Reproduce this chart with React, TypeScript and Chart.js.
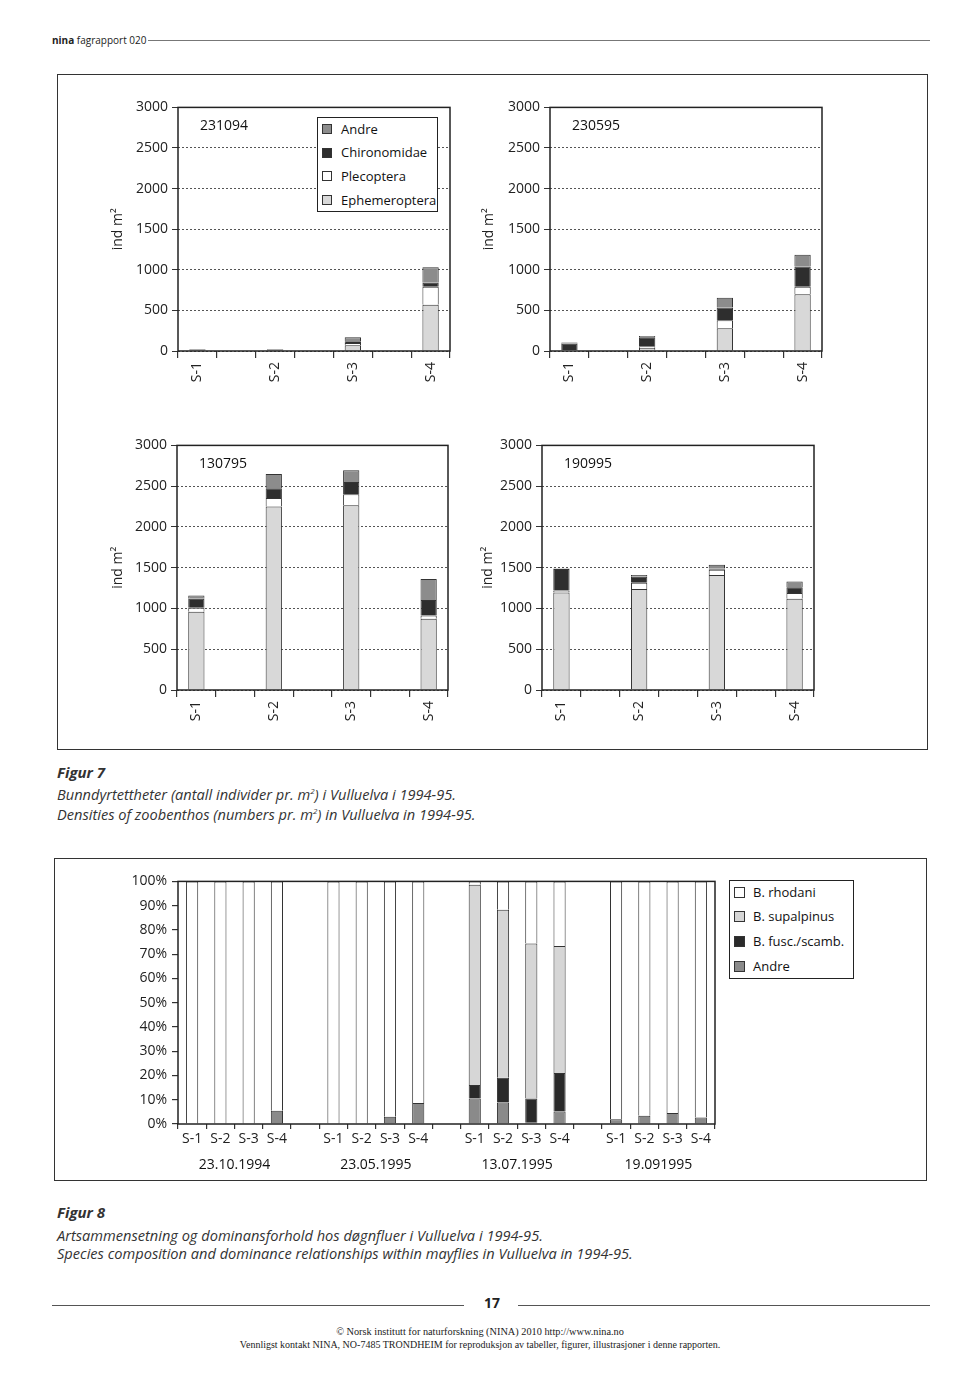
import React, { useEffect, useRef } from "react";
import { Chart, registerables } from "chart.js";
Chart.register(...registerables);

const FONT = "'Open Sans', 'DejaVu Sans', sans-serif";

// ---------- Figur 7 data ----------
const stations = ["S-1", "S-2", "S-3", "S-4"];
const densityTicks = [0, 500, 1000, 1500, 2000, 2500, 3000];
const densitySeries = ["Ephemeroptera", "Plecoptera", "Chironomidae", "Andre"];
const densityColors = ["#d8d8d8", "#ffffff", "#2e2e2e", "#8c8c8c"];

// 231094
const eph231094 = [5, 5, 70, 570];
const plec231094 = [0, 0, 30, 220];
const chir231094 = [15, 15, 20, 50];
const andre231094 = [5, 5, 50, 190];
// 230595
const eph230595 = [10, 40, 280, 700];
const plec230595 = [0, 20, 100, 90];
const chir230595 = [80, 110, 155, 250];
const andre230595 = [15, 15, 120, 145];
// 130795
const eph130795 = [960, 2250, 2265, 875];
const plec130795 = [50, 105, 135, 40];
const chir130795 = [110, 120, 150, 190];
const andre130795 = [40, 175, 145, 255];
// 190995
const eph190995 = [1195, 1240, 1410, 1120];
const plec190995 = [25, 75, 65, 70];
const chir190995 = [265, 75, 15, 70];
const andre190995 = [5, 20, 45, 70];

// ---------- Figur 8 data ----------
const compGroups = ["23.10.1994", "23.05.1995", "13.07.1995", "19.091995"];
const compSeries = ["Andre", "B. fusc./scamb.", "B. supalpinus", "B. rhodani"];
const compColors = ["#8a8a8a", "#2a2a2a", "#d6d6d6", "#ffffff"];
const andreComp = [0, 0, 0, 5.5, 0, 0, 3, 8.7, 10.5, 8.9, 0.5, 5.2, 2.0, 3.4, 4.5, 2.7];
const fuscComp = [0, 0, 0, 0, 0, 0, 0, 0, 5.6, 10.2, 10, 15.8, 0, 0, 0, 0];
const supalpinusComp = [0, 0, 0, 0, 0, 0, 0, 0, 82.5, 69.2, 63.9, 52.4, 0, 0, 0, 0];
const rhodaniComp = [100, 100, 100, 94.5, 100, 100, 97, 91.3, 1.4, 11.7, 25.6, 26.6, 98, 96.6, 95.5, 97.3];
const compTicks = [0, 10, 20, 30, 40, 50, 60, 70, 80, 90, 100];

const framePlugin = {
  id: "frame",
  afterDraw(chart: any) {
    const { ctx, chartArea: a } = chart;
    ctx.save();
    ctx.strokeStyle = "#222";
    ctx.lineWidth = 1.5;
    ctx.strokeRect(a.left, a.top, a.right - a.left, a.bottom - a.top);
    ctx.restore();
  },
};

type Box = { l: number; t: number; r: number; b: number };

function DensityPanel(props: {
  left: number; top: number; width: number; height: number; plot: Box;
  sample: string; titleCenter: number; values: (number)[][];
}) {
  const ref = useRef<HTMLCanvasElement>(null);
  const { left, top, width, height, plot, sample, titleCenter, values } = props;
  useEffect(() => {
    const slots: string[] = [];
    stations.forEach((s, i) => { slots.push(s); if (i < stations.length - 1) slots.push(""); });
    const toSlots = (arr: number[]) => {
      const out: (number | null)[] = [];
      arr.forEach((v, i) => { out.push(v); if (i < arr.length - 1) out.push(null); });
      return out;
    };
    const samplePlugin = {
      id: "sample",
      afterDraw(chart: any) {
        const { ctx, chartArea: a } = chart;
        ctx.save();
        ctx.font = `14px ${FONT}`;
        ctx.fillStyle = "#111";
        ctx.textBaseline = "middle";
        ctx.fillText(sample, a.left + 22, a.top + 19);
        ctx.restore();
      },
    };
    const chart = new Chart(ref.current!, {
      type: "bar",
      data: {
        labels: slots,
        datasets: densitySeries.map((name, i) => ({
          label: name,
          data: toSlots(values[i]),
          backgroundColor: densityColors[i],
          borderColor: "#333",
          borderWidth: 1,
          barPercentage: 0.42,
          categoryPercentage: 1,
        })),
      },
      options: {
        responsive: false,
        animation: false,
        devicePixelRatio: 1,
        layout: { padding: { top: plot.t - top, right: left + width - plot.r, left: 0, bottom: 0 } },
        plugins: { legend: { display: false }, tooltip: { enabled: false } },
        scales: {
          x: {
            stacked: true,
            grid: { drawOnChartArea: false, offset: true, tickLength: 7, color: "#333", tickColor: "#333", lineWidth: 1.2 },
            border: { display: false },
            ticks: { minRotation: 90, maxRotation: 90, autoSkip: false, padding: 4, color: "#222", font: { size: 14, family: FONT } },
            afterFit: (s: any) => { s.height = top + height - plot.b; },
          },
          y: {
            stacked: true,
            min: 0,
            max: 3000,
            afterBuildTicks: (s: any) => { s.ticks = densityTicks.map((v) => ({ value: v })); },
            ticks: { padding: 4, color: "#222", font: { size: 14, family: FONT }, callback: (v: any) => String(v) },
            grid: { color: "#555", tickLength: 6, tickColor: "#333", tickBorderDash: [], lineWidth: 1 },
            border: { display: false, dash: [2, 2] },
            title: { display: true, text: "ind m²", color: "#222", font: { size: 14, family: FONT }, padding: { top: titleCenter - left - 8.4, bottom: 0 } },
            afterFit: (s: any) => { s.width = plot.l - left; },
          },
        },
      },
      plugins: [framePlugin, samplePlugin],
    } as any);
    return () => chart.destroy();
  }, []);
  return (
    <canvas ref={ref} width={width} height={height}
      style={{ position: "absolute", left, top, width, height }} />
  );
}

function CompositionChart(props: { left: number; top: number; width: number; height: number; plot: Box }) {
  const ref = useRef<HTMLCanvasElement>(null);
  const { left, top, width, height, plot } = props;
  useEffect(() => {
    const labels: string[] = [];
    compGroups.forEach((g, gi) => {
      stations.forEach((s) => labels.push(s));
      if (gi < compGroups.length - 1) labels.push("");
    });
    const toSlots = (arr: number[]) => {
      const out: (number | null)[] = [];
      compGroups.forEach((g, gi) => {
        stations.forEach((s, si) => out.push(arr[gi * stations.length + si]));
        if (gi < compGroups.length - 1) out.push(null);
      });
      return out;
    };
    const values = [andreComp, fuscComp, supalpinusComp, rhodaniComp];
    const groupPlugin = {
      id: "groups",
      afterDraw(chart: any) {
        const { ctx, chartArea: a } = chart;
        const xs = chart.scales.x;
        ctx.save();
        ctx.font = `14px ${FONT}`;
        ctx.fillStyle = "#111";
        ctx.textAlign = "center";
        ctx.textBaseline = "middle";
        compGroups.forEach((g, gi) => {
          const base = gi * (stations.length + 1);
          const x = (xs.getPixelForValue(base + 1) + xs.getPixelForValue(base + 2)) / 2;
          ctx.fillText(g, x, a.bottom + 41);
        });
        ctx.restore();
      },
    };
    const chart = new Chart(ref.current!, {
      type: "bar",
      data: {
        labels,
        datasets: compSeries.map((name, i) => ({
          label: name,
          data: toSlots(values[i]),
          backgroundColor: compColors[i],
          borderColor: "#333",
          borderWidth: 1,
          barPercentage: 0.43,
          categoryPercentage: 1,
        })),
      },
      options: {
        responsive: false,
        animation: false,
        devicePixelRatio: 1,
        layout: { padding: { top: plot.t - top, right: left + width - plot.r, left: 0, bottom: 0 } },
        plugins: { legend: { display: false }, tooltip: { enabled: false } },
        scales: {
          x: {
            stacked: true,
            grid: { drawOnChartArea: false, offset: true, tickLength: 5, color: "#333", tickColor: "#333", lineWidth: 1.2 },
            border: { display: false },
            ticks: { minRotation: 0, maxRotation: 0, autoSkip: false, padding: 2, color: "#222", font: { size: 14, family: FONT } },
            afterFit: (s: any) => { s.height = top + height - plot.b; },
          },
          y: {
            stacked: true,
            min: 0,
            max: 100,
            afterBuildTicks: (s: any) => { s.ticks = compTicks.map((v) => ({ value: v })); },
            ticks: { padding: 5, color: "#222", font: { size: 14, family: FONT }, callback: (v: any) => `${v}%` },
            grid: { drawOnChartArea: false, tickLength: 6, tickColor: "#333", lineWidth: 1.2 },
            border: { display: false },
            afterFit: (s: any) => { s.width = plot.l - left; },
          },
        },
      },
      plugins: [framePlugin, groupPlugin],
    } as any);
    return () => chart.destroy();
  }, []);
  return (
    <canvas ref={ref} width={width} height={height}
      style={{ position: "absolute", left, top, width, height }} />
  );
}

function LegendBox(props: { left: number; top: number; width: number; height: number; items: string[]; colors: string[]; rowGap: number; fontSize: number; textLeft: number; sq: number }) {
  const { left, top, width, height, items, colors, rowGap, fontSize, textLeft, sq } = props;
  return (
    <div style={{ position: "absolute", left, top, width, height, border: "1.5px solid #222", background: "#fff", boxSizing: "border-box" }}>
      {items.map((it, i) => (
        <div key={it} style={{ position: "absolute", left: 0, top: 11 - rowGap / 2 + i * rowGap, height: rowGap, width: width - 4, display: "flex", alignItems: "center" }}>
          <div style={{ position: "absolute", left: 4, width: sq, height: sq, background: colors[i], border: "1px solid #333", boxSizing: "border-box" }} />
          <div style={{ position: "absolute", left: textLeft, fontSize, color: "#111", whiteSpace: "nowrap", lineHeight: 1 }}>{it}</div>
        </div>
      ))}
    </div>
  );
}

const capStyle: React.CSSProperties = { position: "absolute", left: 57, fontStyle: "italic", fontSize: 14.6, color: "#333", whiteSpace: "nowrap", lineHeight: 1, fontFamily: FONT };

export default function App() {
  return (
    <div style={{ position: "absolute", left: 0, top: 0, width: 960, height: 1384, background: "#fff", fontFamily: FONT }}>
      {/* header */}
      <div style={{ position: "absolute", left: 52, top: 35, fontSize: 10, color: "#222", whiteSpace: "nowrap", lineHeight: 1 }}>
        <b>nina</b> fagrapport 020
      </div>
      <div style={{ position: "absolute", left: 148, top: 40, width: 782, height: 1, background: "#777" }} />

      {/* Figur 7 box */}
      <div style={{ position: "absolute", left: 57, top: 74, width: 871, height: 676, border: "1.5px solid #333", boxSizing: "border-box" }} />
      <DensityPanel left={100} top={95} width={360} height={300} plot={{ l: 178, t: 106, r: 450, b: 351 }} sample="231094" titleCenter={118}
        values={[eph231094, plec231094, chir231094, andre231094]} />
      <DensityPanel left={470} top={95} width={360} height={300} plot={{ l: 550, t: 106, r: 822, b: 351 }} sample="230595" titleCenter={489}
        values={[eph230595, plec230595, chir230595, andre230595]} />
      <DensityPanel left={100} top={433} width={360} height={300} plot={{ l: 177, t: 444, r: 448, b: 690 }} sample="130795" titleCenter={118}
        values={[eph130795, plec130795, chir130795, andre130795]} />
      <DensityPanel left={470} top={433} width={360} height={300} plot={{ l: 542, t: 444, r: 814, b: 690 }} sample="190995" titleCenter={488}
        values={[eph190995, plec190995, chir190995, andre190995]} />
      <LegendBox left={317} top={117} width={121} height={95} items={[...densitySeries].reverse()} colors={[...densityColors].reverse()}
        rowGap={23.7} fontSize={13} textLeft={23} sq={10} />

      {/* Figur 7 caption */}
      <div style={{ ...capStyle, top: 765, fontWeight: 700, fontSize: 15 }}>Figur 7</div>
      <div style={{ ...capStyle, top: 787 }}>Bunndyrtettheter (antall individer pr. m<sup style={{ fontSize: 8 }}>2</sup>) i Vulluelva i 1994-95.</div>
      <div style={{ ...capStyle, top: 807 }}>Densities of zoobenthos (numbers pr. m<sup style={{ fontSize: 8 }}>2</sup>) in Vulluelva in 1994-95.</div>

      {/* Figur 8 box */}
      <div style={{ position: "absolute", left: 54, top: 858, width: 873, height: 323, border: "1.5px solid #333", boxSizing: "border-box" }} />
      <CompositionChart left={100} top={868} width={625} height={310} plot={{ l: 178, t: 880, r: 715, b: 1124 }} />
      <LegendBox left={729} top={880} width={125} height={99} items={[...compSeries].reverse()} colors={[...compColors].reverse()}
        rowGap={24.7} fontSize={13} textLeft={23} sq={11} />

      {/* Figur 8 caption */}
      <div style={{ ...capStyle, top: 1205, fontWeight: 700, fontSize: 15 }}>Figur 8</div>
      <div style={{ ...capStyle, top: 1228 }}>Artsammensetning og dominansforhold hos døgnfluer i Vulluelva i 1994-95.</div>
      <div style={{ ...capStyle, top: 1246 }}>Species composition and dominance relationships within mayflies in Vulluelva in 1994-95.</div>

      {/* page footer */}
      <div style={{ position: "absolute", left: 52, top: 1305, width: 412, height: 1, background: "#555" }} />
      <div style={{ position: "absolute", left: 518, top: 1305, width: 412, height: 1, background: "#555" }} />
      <div style={{ position: "absolute", left: 480, top: 1296, width: 24, textAlign: "center", fontSize: 14, fontWeight: 700, color: "#222", lineHeight: 1 }}>17</div>
      <div style={{ position: "absolute", left: 0, width: 960, top: 1327, textAlign: "center", fontFamily: "'Liberation Serif', serif", fontSize: 10.3, color: "#222", lineHeight: 1 }}>
        © Norsk institutt for naturforskning (NINA) 2010 http://www.nina.no
      </div>
      <div style={{ position: "absolute", left: 0, width: 960, top: 1340, textAlign: "center", fontFamily: "'Liberation Serif', serif", fontSize: 10, color: "#222", lineHeight: 1 }}>
        Vennligst kontakt NINA, NO-7485 TRONDHEIM for reproduksjon av tabeller, figurer, illustrasjoner i denne rapporten.
      </div>
    </div>
  );
}
